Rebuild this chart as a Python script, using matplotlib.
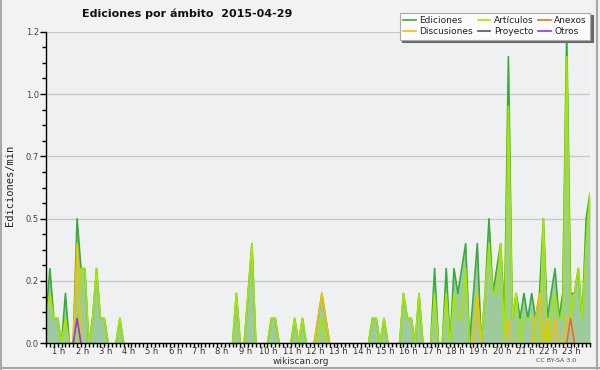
import matplotlib
matplotlib.use("Agg")
import matplotlib.pyplot as plt
from matplotlib.lines import Line2D
import numpy as np

# one value per 10-minute slot starting at 00:00 (edits per minute)
ediciones = [
    0.1, 0.3, 0.1, 0.1, 0, 0.2, 0, 0, 0.5, 0.3, 0.3, 0, 0.1, 0.3, 0.1, 0.1, 0, 0, 0, 0.1,
    0, 0, 0, 0, 0, 0, 0, 0, 0, 0, 0, 0, 0, 0, 0, 0, 0, 0, 0, 0,
    0, 0, 0, 0, 0, 0, 0, 0, 0, 0.2, 0, 0, 0.2, 0.4, 0, 0, 0, 0, 0.1, 0.1,
    0, 0, 0, 0, 0.1, 0, 0.1, 0, 0, 0, 0.1, 0.2, 0.1, 0, 0, 0, 0, 0, 0, 0,
    0, 0, 0, 0, 0.1, 0.1, 0, 0.1, 0, 0, 0, 0, 0.2, 0.1, 0.1, 0, 0.2, 0, 0, 0,
    0.3, 0, 0, 0.3, 0, 0.3, 0.2, 0.3, 0.4, 0, 0.2, 0.4, 0, 0.2, 0.5, 0.2, 0.3, 0.4, 0.1, 1.15,
    0.1, 0.2, 0.1, 0.2, 0.1, 0.2, 0.1, 0.2, 0.5, 0.1, 0.2, 0.3, 0.1, 0.2, 1.25, 0.2, 0.2, 0.3, 0.1, 0.5,
    0.6,
]
articulos = [
    0.1, 0.2, 0.1, 0.1, 0, 0.1, 0, 0, 0, 0.3, 0.3, 0, 0.1, 0.3, 0.1, 0.1, 0, 0, 0, 0.1,
    0, 0, 0, 0, 0, 0, 0, 0, 0, 0, 0, 0, 0, 0, 0, 0, 0, 0, 0, 0,
    0, 0, 0, 0, 0, 0, 0, 0, 0, 0.2, 0, 0, 0.2, 0.4, 0, 0, 0, 0, 0.1, 0.1,
    0, 0, 0, 0, 0.1, 0, 0.1, 0, 0, 0, 0, 0.1, 0, 0, 0, 0, 0, 0, 0, 0,
    0, 0, 0, 0, 0.1, 0.1, 0, 0.1, 0, 0, 0, 0, 0.2, 0.1, 0.1, 0, 0.2, 0, 0, 0,
    0.2, 0, 0, 0.2, 0, 0.2, 0.1, 0.1, 0.3, 0, 0, 0.2, 0, 0.2, 0.4, 0.2, 0.2, 0.4, 0, 0.95,
    0.1, 0.2, 0, 0.1, 0.1, 0.1, 0, 0, 0.5, 0, 0.1, 0.2, 0.1, 0.1, 1.15, 0.1, 0.2, 0.3, 0.1, 0.4,
    0.6,
]
discusiones = [
    0, 0, 0, 0, 0, 0, 0, 0, 0.4, 0, 0, 0, 0, 0, 0, 0, 0, 0, 0, 0,
    0, 0, 0, 0, 0, 0, 0, 0, 0, 0, 0, 0, 0, 0, 0, 0, 0, 0, 0, 0,
    0, 0, 0, 0, 0, 0, 0, 0, 0, 0, 0, 0, 0, 0, 0, 0, 0, 0, 0, 0,
    0, 0, 0, 0, 0, 0, 0, 0, 0, 0, 0.1, 0.2, 0.1, 0, 0, 0, 0, 0, 0, 0,
    0, 0, 0, 0, 0, 0, 0, 0, 0, 0, 0, 0, 0, 0, 0, 0, 0, 0, 0, 0,
    0, 0, 0, 0, 0, 0, 0, 0, 0, 0, 0, 0.2, 0, 0, 0, 0, 0, 0, 0, 0.1,
    0, 0, 0, 0, 0, 0, 0.1, 0.2, 0, 0.1, 0, 0.1, 0, 0, 0.1, 0.1, 0, 0, 0, 0,
    0,
]
anexos = [0] * 135 + [0.1] + [0] * 5
proyecto = [0] * 141
otros = [0] * 8 + [0.1] + [0] * 132

hour_labels = [f"{h} h" for h in range(1, 24)]
y_ticks = [0, 0.25, 0.5, 0.75, 1.0, 1.25]
y_labels = ["0.0", "0.2", "0.5", "0.7", "1.0", "1.2"]

hours = np.arange(len(ediciones)) / 6.0


def hide_flat_zeros(vals):
    # keep zeros only where the line leaves or returns to the baseline
    v = np.array(vals, dtype=float)
    z = v == 0
    prev = np.r_[True, z[:-1]]
    nxt = np.r_[z[1:], True]
    v[z & prev & nxt] = np.nan
    return v


W, H = 600, 370
fig = plt.figure(figsize=(6, 3.7), dpi=100, facecolor="#f2f2f2")
ax = fig.add_axes([46 / W, 1 - 343.3 / H, 544 / W, (343.3 - 31.7) / H])
ax.set_facecolor("#eef0f2")

ax.yaxis.grid(True, color="#c9c9c9", lw=1)
ax.set_axisbelow(True)

ax.fill_between(hours, 0, ediciones, color="#9ecb9e", lw=0, zorder=2)
series = [
    ("Ediciones", ediciones, "#38ac38"),
    ("Artículos", articulos, "#a6e600"),
    ("Discusiones", discusiones, "#f2c100"),
    ("Anexos", anexos, "#ee6a2a"),
    ("Proyecto", proyecto, "#555555"),
    ("Otros", otros, "#9236e6"),
]
lines = {}
for name, vals, col in series:
    ln, = ax.plot(hours, hide_flat_zeros(vals), color=col, lw=1.2, zorder=3)
    lines[name] = ln

ax.set_xlim(0, hours[-1])
ax.set_ylim(0, 1.25)

for s in ["top", "right"]:
    ax.spines[s].set_visible(False)
for s in ["left", "bottom"]:
    ax.spines[s].set_color("black")
    ax.spines[s].set_linewidth(1)
    ax.spines[s].set_zorder(5)

ax.set_xticks(hours, minor=True)
ax.set_xticks([h - 0.45 for h in range(1, 24)])
ax.set_xticklabels(hour_labels)
ax.tick_params(axis="x", which="major", length=0, pad=3, labelsize=6, labelcolor="#333333")
ax.tick_params(axis="x", which="minor", length=3, width=1, direction="out", color="black")

ax.set_yticks(y_ticks)
ax.set_yticklabels(y_labels)
ax.set_yticks(np.arange(0, 1.26, 0.0625), minor=True)
ax.tick_params(axis="y", which="major", length=4, width=1, pad=1, labelsize=6, labelcolor="#444444")
ax.tick_params(axis="y", which="minor", length=3, width=1)

fig.text(10 / W, 1 - 185 / H, "Ediciones/min", rotation=90, ha="center", va="center",
         fontsize=7.5, family="DejaVu Sans Mono", color="#222222")
fig.text(187 / W, 1 - 14 / H, "Ediciones por ámbito  2015-04-29", ha="center", va="center",
         fontsize=8, fontweight="bold", color="#111111")
fig.text(301 / W, 1 - 361 / H, "wikiscan.org", ha="center", va="center", fontsize=6.5, color="#333333")
fig.text(556 / W, 1 - 361 / H, "CC BY-SA 3.0", ha="center", va="center", fontsize=4.5, color="#444444")

order = ["Ediciones", "Discusiones", "Artículos", "Proyecto", "Anexos", "Otros"]
leg = fig.legend([lines[k] for k in order], order, ncol=3, loc="upper right",
                 bbox_to_anchor=(595 / W, 1 - 8 / H), fontsize=6.5, frameon=True, fancybox=False,
                 shadow={"color": "#6a6a6a", "alpha": 1}, handlelength=1.4, handletextpad=0.4,
                 columnspacing=0.5, labelspacing=0.2, borderpad=0.4)
leg.get_frame().set_facecolor("#fbfbfb")
leg.get_frame().set_edgecolor("#aaaaaa")
leg.get_frame().set_linewidth(0.8)
for t in leg.get_texts():
    t.set_color("#222222")

# thin gray border around the picture
for xs, ys in [((1 / W, 1 / W), (0, 1)), ((597 / W, 597 / W), (0, 1)), ((0, 1), (2 / H, 2 / H))]:
    fig.add_artist(Line2D(xs, ys, color="#a8a8a8", lw=1.5, transform=fig.transFigure))

fig.savefig("out.png", dpi=100, facecolor=fig.get_facecolor())
